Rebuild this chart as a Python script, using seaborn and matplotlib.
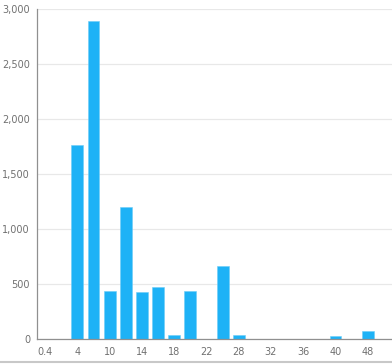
import numpy as np
import pandas as pd
import matplotlib
matplotlib.use("Agg")
import matplotlib.pyplot as plt
import seaborn as sns
from matplotlib.ticker import FuncFormatter, FixedLocator

# categories (every other one gets a label on the axis)
categorias = ["0.4", "2", "4", "8", "10", "12", "14", "16", "18", "20", "22",
              "26", "28", "30", "32", "34", "36", "38", "40", "44", "48", "52"]
valores = [0, 0, 1760, 2890, 440, 1200, 425, 470, 32, 440, 0,
           665, 38, 0, 0, 0, 0, 0, 25, 0, 73, 0]
etiquetas = ["0.4", "4", "10", "14", "18", "22", "28", "32", "36", "40", "48"]

df = pd.DataFrame({"cat": categorias, "val": valores})

sns.set_style("white")
plt.rcParams['font.family'] = ['DejaVu Sans']

fig = plt.figure(figsize=(3.92, 3.64), dpi=100)
ax = fig.add_axes([37/392, 25/364, 355/392, 330/364])

sns.barplot(data=df, x="cat", y="val", order=categorias, color="#1eb2f6",
            saturation=1, width=0.74, ax=ax, edgecolor="#6ccdf8", linewidth=0.4)

ax.set_xlim(-0.5, len(categorias) - 0.5)
ax.set_ylim(0, 3000)
ax.set_yticks(np.arange(0, 3001, 500))
ax.yaxis.set_major_formatter(FuncFormatter(lambda v, p: f"{int(v):,}"))
ax.grid(axis="y", color="#e8e8e8", linewidth=0.9)
ax.set_axisbelow(True)

# labels at centers of every other slot, tick marks at slot boundaries
ax.set_xticks(np.arange(0, len(categorias), 2))
ax.set_xticklabels(etiquetas)
ax.xaxis.set_minor_locator(FixedLocator(np.arange(-0.5, len(categorias), 1)))
ax.tick_params(axis="x", which="major", length=0, pad=6, labelsize=7, labelcolor="#707070")
ax.tick_params(axis="x", which="minor", length=4, width=0.8, color="#909090", direction="out")
ax.tick_params(axis="y", length=3, width=0.8, color="#909090", labelsize=7, labelcolor="#707070", pad=2)

ax.set_xlabel("")
ax.set_ylabel("")
for s in ["top", "right"]:
    ax.spines[s].set_visible(False)
for s in ["left", "bottom"]:
    ax.spines[s].set_color("#909090")
    ax.spines[s].set_linewidth(0.9)

# bottom frame line of the panel
fig.add_artist(plt.Line2D([0, 1], [2/364, 2/364], color="#c8c8c8", linewidth=1.5,
                          transform=fig.transFigure))

fig.savefig("out.png", dpi=100)
